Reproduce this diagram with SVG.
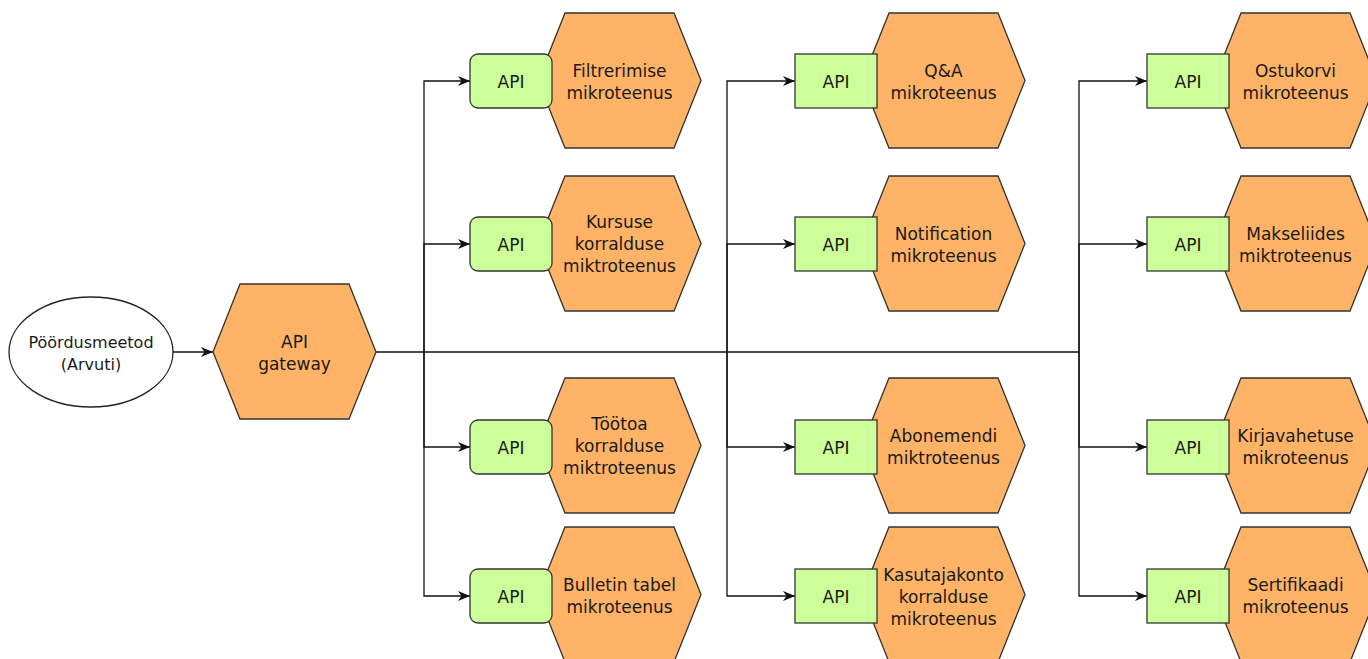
<svg xmlns="http://www.w3.org/2000/svg" width="1368" height="659" viewBox="0 0 1368 659">
<defs>
<style>
.hex{fill:#FFB366;stroke:#333;stroke-width:1.3}
.api{fill:#CCFF99;stroke:#333;stroke-width:1.3}
.ell{fill:#fff;stroke:#222;stroke-width:1.3}
.t{font-family:'Comic Sans MS','DejaVu Sans',sans-serif;font-size:17px;fill:#1a1a1a;text-anchor:middle}
.e{font-size:16px}
.c{fill:none;stroke:#111;stroke-width:1.3}
</style>
<marker id="arr" markerWidth="14" markerHeight="12" refX="12" refY="6" orient="auto" markerUnits="userSpaceOnUse">
<path d="M0,1 L12,6 L0,11 L3.5,6 Z" fill="#111"/>
</marker>
</defs>
<rect width="1368" height="659" fill="#fff"/>

<g id="connectors">
<path class="c" d="M173,352 H213" marker-end="url(#arr)"/>
<path class="c" d="M376,352 H424 V81 H470" marker-end="url(#arr)"/>
<path class="c" d="M424,352 V244 H470" marker-end="url(#arr)"/>
<path class="c" d="M424,352 V447 H470" marker-end="url(#arr)"/>
<path class="c" d="M424,352 V596 H470" marker-end="url(#arr)"/>
<path class="c" d="M424,352 H727 V81 H795" marker-end="url(#arr)"/>
<path class="c" d="M727,352 V244 H795" marker-end="url(#arr)"/>
<path class="c" d="M727,352 V447 H795" marker-end="url(#arr)"/>
<path class="c" d="M727,352 V596 H795" marker-end="url(#arr)"/>
<path class="c" d="M727,352 H1079 V81 H1147" marker-end="url(#arr)"/>
<path class="c" d="M1079,352 V244 H1147" marker-end="url(#arr)"/>
<path class="c" d="M1079,352 V447 H1147" marker-end="url(#arr)"/>
<path class="c" d="M1079,352 V596 H1147" marker-end="url(#arr)"/>
</g>

<g id="client">
<ellipse class="ell" cx="91" cy="352" rx="82" ry="55"/>
<text class="t e" x="91" y="348">Pöördusmeetod</text>
<text class="t e" x="91" y="370">(Arvuti)</text>
</g>

<g id="gateway">
<polygon class="hex" points="213,352 240,284 349,284 376,352 349,419 240,419"/>
<text class="t" x="294.5" y="348">API</text>
<text class="t" x="294.5" y="370">gateway</text>
</g>

<!-- Column 1 -->
<g id="filtrerimine">
<polygon class="hex" points="538,80.5 565,13 674,13 701,80.5 674,148 565,148"/>
<rect class="api" x="470" y="54" width="82" height="54" rx="8"/>
<text class="t" x="511" y="88">API</text>
<text class="t" x="619.5" y="77">Filtrerimise</text>
<text class="t" x="619.5" y="99">mikroteenus</text>
</g>
<g id="kursus">
<polygon class="hex" points="538,243.5 565,176 674,176 701,243.5 674,311 565,311"/>
<rect class="api" x="470" y="217" width="82" height="54" rx="8"/>
<text class="t" x="511" y="251">API</text>
<text class="t" x="619.5" y="228">Kursuse</text>
<text class="t" x="619.5" y="250">korralduse</text>
<text class="t" x="619.5" y="272">miktroteenus</text>
</g>
<g id="töötuba">
<polygon class="hex" points="538,445.5 565,378 674,378 701,445.5 674,513 565,513"/>
<rect class="api" x="470" y="420" width="82" height="54" rx="8"/>
<text class="t" x="511" y="454">API</text>
<text class="t" x="619.5" y="430">Töötoa</text>
<text class="t" x="619.5" y="452">korralduse</text>
<text class="t" x="619.5" y="474">miktroteenus</text>
</g>
<g id="bulletin">
<polygon class="hex" points="538,594.5 565,527 674,527 701,594.5 674,662 565,662"/>
<rect class="api" x="470" y="569" width="82" height="54" rx="8"/>
<text class="t" x="511" y="603">API</text>
<text class="t" x="619.5" y="591">Bulletin tabel</text>
<text class="t" x="619.5" y="613">mikroteenus</text>
</g>

<!-- Column 2 -->
<g id="qa">
<polygon class="hex" points="862,80.5 889,13 998,13 1025,80.5 998,148 889,148"/>
<rect class="api" x="795" y="54" width="82" height="54"/>
<text class="t" x="836" y="88">API</text>
<text class="t" x="943.5" y="77">Q&amp;A</text>
<text class="t" x="943.5" y="99">mikroteenus</text>
</g>
<g id="notification">
<polygon class="hex" points="862,243.5 889,176 998,176 1025,243.5 998,311 889,311"/>
<rect class="api" x="795" y="217" width="82" height="54"/>
<text class="t" x="836" y="251">API</text>
<text class="t" x="943.5" y="240">Notification</text>
<text class="t" x="943.5" y="262">mikroteenus</text>
</g>
<g id="abonement">
<polygon class="hex" points="862,445.5 889,378 998,378 1025,445.5 998,513 889,513"/>
<rect class="api" x="795" y="420" width="82" height="54"/>
<text class="t" x="836" y="454">API</text>
<text class="t" x="943.5" y="442">Abonemendi</text>
<text class="t" x="943.5" y="464">miktroteenus</text>
</g>
<g id="kasutajakonto">
<polygon class="hex" points="862,594.5 889,527 998,527 1025,594.5 998,662 889,662"/>
<rect class="api" x="795" y="569" width="82" height="54"/>
<text class="t" x="836" y="603">API</text>
<text class="t" x="943.5" y="581">Kasutajakonto</text>
<text class="t" x="943.5" y="603">korralduse</text>
<text class="t" x="943.5" y="625">mikroteenus</text>
</g>

<!-- Column 3 -->
<g id="ostukorv">
<polygon class="hex" points="1214,80.5 1241,13 1350,13 1377,80.5 1350,148 1241,148"/>
<rect class="api" x="1147" y="54" width="82" height="54"/>
<text class="t" x="1188" y="88">API</text>
<text class="t" x="1295.5" y="77">Ostukorvi</text>
<text class="t" x="1295.5" y="99">mikroteenus</text>
</g>
<g id="makseliides">
<polygon class="hex" points="1214,243.5 1241,176 1350,176 1377,243.5 1350,311 1241,311"/>
<rect class="api" x="1147" y="217" width="82" height="54"/>
<text class="t" x="1188" y="251">API</text>
<text class="t" x="1295.5" y="240">Makseliides</text>
<text class="t" x="1295.5" y="262">miktroteenus</text>
</g>
<g id="kirjavahetus">
<polygon class="hex" points="1214,445.5 1241,378 1350,378 1377,445.5 1350,513 1241,513"/>
<rect class="api" x="1147" y="420" width="82" height="54"/>
<text class="t" x="1188" y="454">API</text>
<text class="t" x="1295.5" y="442">Kirjavahetuse</text>
<text class="t" x="1295.5" y="464">mikroteenus</text>
</g>
<g id="sertifikaat">
<polygon class="hex" points="1214,594.5 1241,527 1350,527 1377,594.5 1350,662 1241,662"/>
<rect class="api" x="1147" y="569" width="82" height="54"/>
<text class="t" x="1188" y="603">API</text>
<text class="t" x="1295.5" y="591">Sertifikaadi</text>
<text class="t" x="1295.5" y="613">mikroteenus</text>
</g>
</svg>
